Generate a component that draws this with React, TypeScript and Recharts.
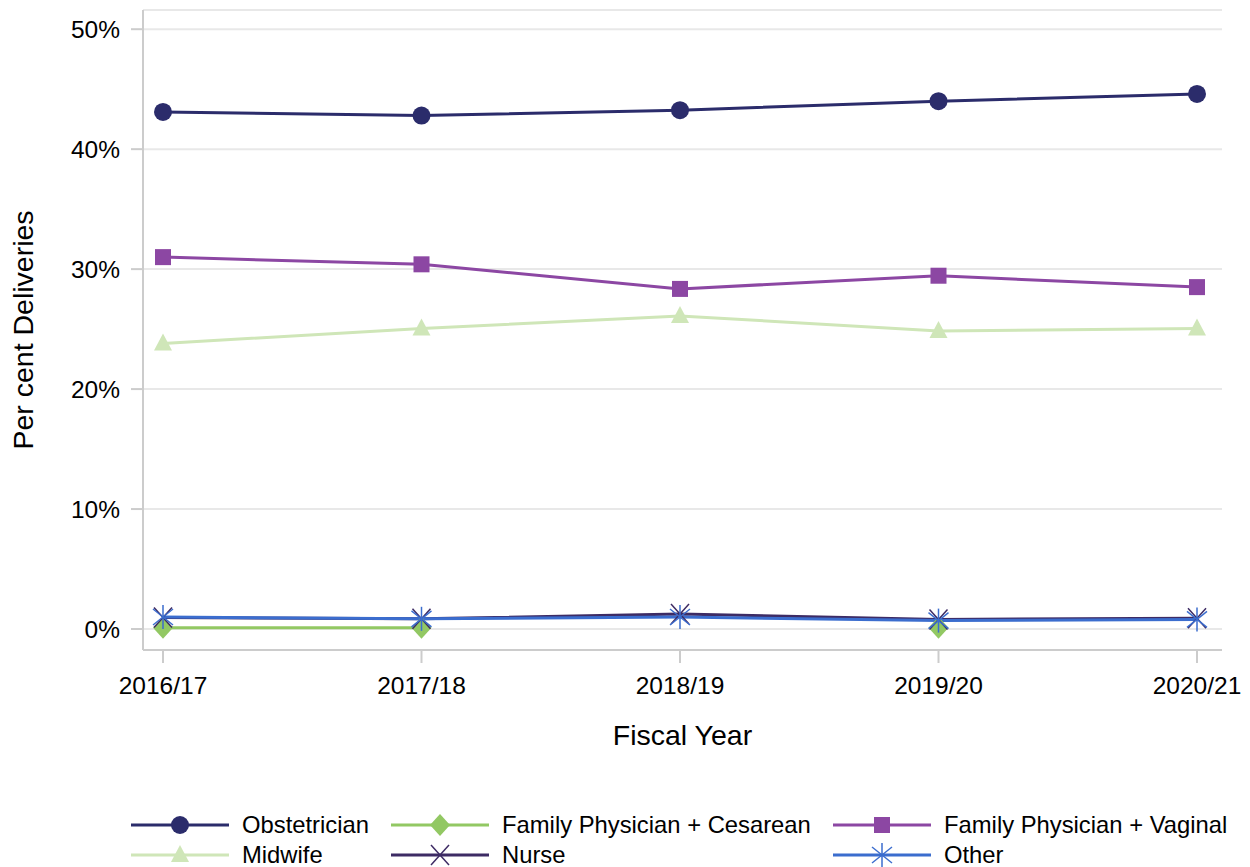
import {
  LineChart,
  Line,
  XAxis,
  YAxis,
  CartesianGrid,
  Legend,
} from "recharts";

// fiscal years on the x axis
const years = ["2016/17", "2017/18", "2018/19", "2019/20", "2020/21"];

// per cent of deliveries
const obstetrician = [43.1, 42.8, 43.25, 44.0, 44.6];
const fpCesarean = [0.1, 0.1, null, 0.1, null];
const fpVaginal = [31.0, 30.4, 28.35, 29.45, 28.5];
const midwife = [23.8, 25.05, 26.1, 24.85, 25.05];
const nurse = [0.95, 0.85, 1.25, 0.8, 0.9];
const other = [1.0, 0.85, 1.0, 0.7, 0.8];

const yTicks = [0, 10, 20, 30, 40, 50];
const Y_MIN = -1.75;
const Y_MAX = 51.6;

const FONT = "'Liberation Sans', Arial, sans-serif";
const FRAME = "#cccccc";

type SeriesDef = {
  key: string;
  name: string;
  color: string;
  marker: "circle" | "diamond" | "square" | "triangle" | "x" | "star";
};

const SERIES: SeriesDef[] = [
  { key: "obstetrician", name: "Obstetrician", color: "#2b2c6b", marker: "circle" },
  { key: "fpCesarean", name: "Family Physician + Cesarean", color: "#92c863", marker: "diamond" },
  { key: "fpVaginal", name: "Family Physician + Vaginal", color: "#8c47a3", marker: "square" },
  { key: "midwife", name: "Midwife", color: "#cfe6b8", marker: "triangle" },
  { key: "nurse", name: "Nurse", color: "#3d2b64", marker: "x" },
  { key: "other", name: "Other", color: "#3b6dce", marker: "star" },
];

const data = years.map((year, i) => ({
  year,
  obstetrician: obstetrician[i],
  fpCesarean: fpCesarean[i],
  fpVaginal: fpVaginal[i],
  midwife: midwife[i],
  nurse: nurse[i],
  other: other[i],
}));

function Marker({ cx, cy, type, color }: { cx: number; cy: number; type: SeriesDef["marker"]; color: string }) {
  switch (type) {
    case "circle":
      return <circle cx={cx} cy={cy} r={9} fill={color} />;
    case "diamond":
      return (
        <path d={`M${cx},${cy - 11} L${cx + 10},${cy} L${cx},${cy + 11} L${cx - 10},${cy} Z`} fill={color} />
      );
    case "square":
      return <rect x={cx - 8} y={cy - 8} width={16} height={16} fill={color} />;
    case "triangle":
      return (
        <path d={`M${cx},${cy - 10} L${cx + 9},${cy + 7} L${cx - 9},${cy + 7} Z`} fill={color} />
      );
    case "x":
      return (
        <g stroke={color} strokeWidth={1.5}>
          <line x1={cx - 9} y1={cy - 10} x2={cx + 9} y2={cy + 10} />
          <line x1={cx - 9} y1={cy + 10} x2={cx + 9} y2={cy - 10} />
        </g>
      );
    case "star":
      return (
        <g stroke={color} strokeWidth={1.5}>
          <line x1={cx} y1={cy - 12} x2={cx} y2={cy + 12} />
          <line x1={cx - 10} y1={cy - 8} x2={cx + 10} y2={cy + 8} />
          <line x1={cx - 10} y1={cy + 8} x2={cx + 10} y2={cy - 8} />
        </g>
      );
  }
  return null;
}

const makeDot = (s: SeriesDef) => (props: any) => {
  const { cx, cy, index, value } = props;
  if (value == null || cy == null || isNaN(cy)) return <g key={`${s.key}-${index}`} />;
  return (
    <g key={`${s.key}-${index}`}>
      <Marker cx={cx} cy={cy} type={s.marker} color={s.color} />
    </g>
  );
};

// legend placement: three columns, two rows
const LEGEND_COLS = [
  { line: 131, text: 242 },
  { line: 391, text: 502 },
  { line: 833, text: 944 },
];
const LEGEND_ROWS = [20, 50];

function LegendContent() {
  return (
    <svg width={1250} height={62} style={{ display: "block" }}>
      {SERIES.map((s, i) => {
        const col = LEGEND_COLS[i % 3];
        const y = LEGEND_ROWS[Math.floor(i / 3)];
        const mid = col.line + 49;
        return (
          <g key={s.key}>
            <line x1={col.line} y1={y} x2={col.line + 98} y2={y} stroke={s.color} strokeWidth={3} />
            <Marker cx={mid} cy={y} type={s.marker} color={s.color} />
            <text x={col.text} y={y + 8} fontSize={23.8} fontFamily={FONT} fill="#000">
              {s.name}
            </text>
          </g>
        );
      })}
    </svg>
  );
}

export default function App() {
  return (
    <div
      style={{
        position: "absolute",
        left: 0,
        top: 0,
        width: 1250,
        height: 867,
        background: "#fff",
        fontFamily: FONT,
        overflow: "hidden",
      }}
    >
      <LineChart
        width={1250}
        height={867}
        data={data}
        margin={{ top: 10, right: 28, left: 0, bottom: 117 }}
      >
        <CartesianGrid horizontal vertical={false} stroke="#e8e8e8" strokeWidth={2} />
        <XAxis
          dataKey="year"
          height={100}
          padding={{ left: 20, right: 25 }}
          axisLine={{ stroke: FRAME, strokeWidth: 2 }}
          tickLine={{ stroke: FRAME, strokeWidth: 2 }}
          tickSize={13}
          tickMargin={14}
          tick={{ fill: "#000", fontSize: 24.5, fontFamily: FONT }}
          interval={0}
          label={{
            content: (p: any) => {
              const vb = p.viewBox || { x: 143, y: 650, width: 1079 };
              return (
                <text
                  x={vb.x + vb.width / 2}
                  y={vb.y + 95}
                  textAnchor="middle"
                  fontSize={28.5}
                  fontFamily={FONT}
                  fill="#000"
                >
                  Fiscal Year
                </text>
              );
            },
          }}
        />
        <XAxis
          xAxisId="top"
          dataKey="year"
          orientation="top"
          height={0}
          tick={false}
          tickLine={false}
          axisLine={{ stroke: FRAME, strokeWidth: 2 }}
        />
        <YAxis
          width={143}
          domain={[Y_MIN, Y_MAX]}
          ticks={yTicks}
          allowDataOverflow
          axisLine={{ stroke: FRAME, strokeWidth: 2 }}
          tickLine={{ stroke: FRAME, strokeWidth: 2 }}
          tickSize={12}
          tickMargin={11}
          tickFormatter={(v) => `${v}%`}
          tick={{ fill: "#000", fontSize: 24.5, fontFamily: FONT }}
          label={{
            content: (p: any) => {
              const vb = p.viewBox || { y: 10, height: 640 };
              const cx = 33;
              const cy = vb.y + vb.height / 2;
              return (
                <text
                  x={cx}
                  y={cy}
                  transform={`rotate(-90 ${cx} ${cy})`}
                  textAnchor="middle"
                  fontSize={28.5}
                  fontFamily={FONT}
                  fill="#000"
                >
                  Per cent Deliveries
                </text>
              );
            },
          }}
        />
        <YAxis
          yAxisId="right"
          orientation="right"
          width={0}
          domain={[Y_MIN, Y_MAX]}
          tick={false}
          tickLine={false}
          axisLine={{ stroke: FRAME, strokeWidth: 2 }}
        />
        {SERIES.map((s) => (
          <Line
            key={s.key}
            type="linear"
            dataKey={s.key}
            name={s.name}
            stroke={s.color}
            strokeWidth={3}
            dot={makeDot(s)}
            activeDot={false}
            connectNulls={false}
            isAnimationActive={false}
          />
        ))}
        <Legend
          layout="horizontal"
          verticalAlign="middle"
          align="center"
          content={() => <LegendContent />}
          wrapperStyle={{ left: 0, top: 805, width: 1250, height: 62 }}
        />
      </LineChart>
    </div>
  );
}
